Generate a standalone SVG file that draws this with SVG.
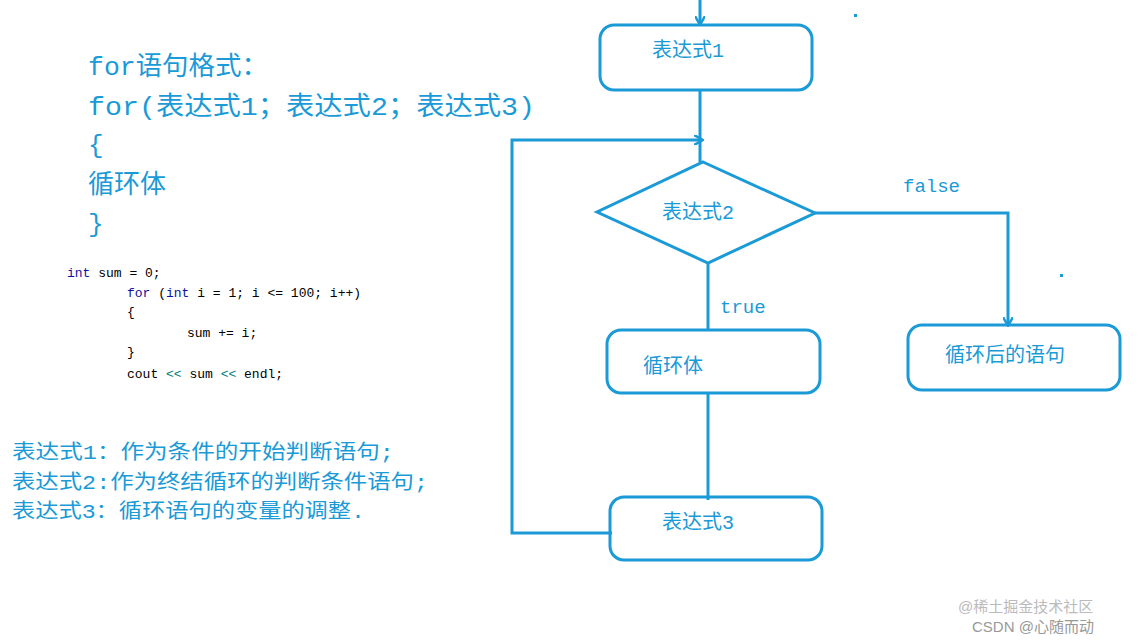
<svg xmlns="http://www.w3.org/2000/svg" width="1138" height="642" viewBox="0 0 1138 642">
<style>
.b{fill:none;stroke:#1a9ad6;stroke-width:3}
.t{fill:#1a9ad6;font-family:"Liberation Mono","Noto Sans CJK SC",monospace}
.m{font-family:"Liberation Mono",monospace;font-size:13px;fill:#000}
.k{fill:#1010a0}.o{fill:#008080}
</style>
<defs><marker id="a" markerWidth="10" markerHeight="10" refX="8" refY="5" orient="auto" markerUnits="userSpaceOnUse"><path d="M0,0 L9,5 L0,10" fill="none" stroke="#1a9ad6" stroke-width="2.5"/></marker></defs>
<rect width="1138" height="642" fill="#fff"/>
<g class="t" font-size="26">
<text x="88" y="75" textLength="180" lengthAdjust="spacingAndGlyphs">for语句格式：</text>
<text x="88" y="115" textLength="447" lengthAdjust="spacingAndGlyphs">for(表达式1；表达式2；表达式3)</text>
<text x="88" y="153">{</text>
<text x="88" y="193">循环体</text>
<text x="88" y="232">}</text>
</g>
<g class="m">
<text x="67" y="277"><tspan class="k">int</tspan> sum = 0;</text>
<text x="127" y="297"><tspan class="k">for</tspan> (<tspan class="k">int</tspan> i = 1; i &lt;= 100; i++)</text>
<text x="127" y="316">{</text>
<text x="187" y="337">sum += i;</text>
<text x="127" y="356">}</text>
<text x="127" y="378">cout <tspan class="o">&lt;&lt;</tspan> sum <tspan class="o">&lt;&lt;</tspan> endl;</text>
</g>
<g class="t" font-size="20">
<text x="12" y="459" textLength="382" lengthAdjust="spacingAndGlyphs">表达式1：作为条件的开始判断语句;</text>
<text x="12" y="489" textLength="416" lengthAdjust="spacingAndGlyphs">表达式2:作为终结循环的判断条件语句;</text>
<text x="12" y="518" textLength="353" lengthAdjust="spacingAndGlyphs">表达式3：循环语句的变量的调整.</text>
</g>
<g id="connectors" class="b">
<line x1="700" y1="0" x2="700" y2="24" marker-end="url(#a)"/>
<line x1="700" y1="90" x2="700" y2="162"/>
<polyline points="612,533 512,533 512,140 702,140" marker-end="url(#a)"/>
<line x1="708" y1="263" x2="708" y2="330"/>
<line x1="708" y1="393" x2="708" y2="500"/>
<polyline points="815,213 1008,213 1008,325" marker-end="url(#a)"/>
</g>
<g class="t" font-size="19"><text x="720" y="313">true</text><text x="903" y="192">false</text></g>
<g id="n1"><rect class="b" x="600" y="25" width="212" height="65" rx="14"/><text class="t" x="652" y="57" font-size="20">表达式1</text></g>
<g id="n2"><polygon class="b" points="703,162 815,213 708,263 597,212"/><text class="t" x="662" y="219" font-size="20">表达式2</text></g>
<g id="n3"><rect class="b" x="607" y="330" width="213" height="63" rx="14"/><text class="t" x="643" y="373" font-size="20">循环体</text></g>
<g id="n4"><rect class="b" x="610" y="497" width="212" height="63" rx="14"/><text class="t" x="662" y="529" font-size="20">表达式3</text></g>
<g id="n5"><rect class="b" x="908" y="325" width="212" height="65" rx="14"/><text class="t" x="945" y="362" font-size="20">循环后的语句</text></g>
<rect x="854" y="14" width="3" height="3" fill="#1a9ad6"/>
<rect x="1060" y="274" width="3" height="3" fill="#1a9ad6"/>
<g font-family="Liberation Sans,Noto Sans CJK SC,sans-serif" font-size="15" fill="#bbb">
<text x="958" y="612">@稀土掘金技术社区</text>
<text x="972" y="632" fill="#999">CSDN @心随而动</text>
</g>
</svg>
